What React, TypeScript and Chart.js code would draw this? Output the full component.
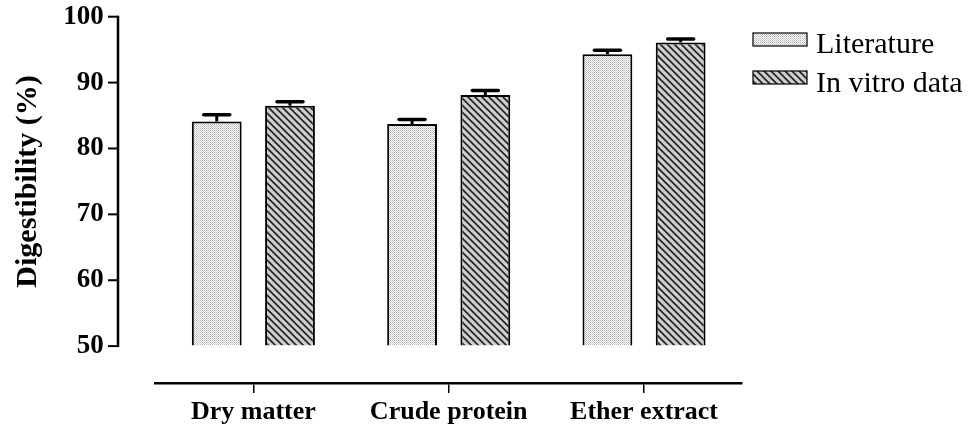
import React, { useEffect, useRef } from "react";
import { Chart, registerables } from "chart.js";

Chart.register(...registerables);

const categories = ["Dry matter", "Crude protein", "Ether extract"];
const seriesNames = ["Literature", "In vitro data"];
const literature = [84.1, 83.7, 94.3];
const literatureErr = [1.0, 0.7, 0.6];
const inVitro = [86.5, 88.1, 96.1];
const inVitroErr = [0.6, 0.7, 0.5];
const yTicks = [50, 60, 70, 80, 90, 100];
const yTitle = "Digestibility (%)";

const FONT = "'Liberation Serif', 'Times New Roman', serif";

function makeDots(ctx: CanvasRenderingContext2D) {
  const t = document.createElement("canvas");
  t.width = 2;
  t.height = 2;
  const c = t.getContext("2d")!;
  c.fillStyle = "#ffffff";
  c.fillRect(0, 0, 2, 2);
  c.fillStyle = "#b4b4b4";
  c.fillRect(0, 0, 1, 1);
  c.fillStyle = "#cccccc";
  c.fillRect(1, 1, 1, 1);
  return ctx.createPattern(t, "repeat")!;
}

function makeHatch(ctx: CanvasRenderingContext2D) {
  const s = 7;
  const t = document.createElement("canvas");
  t.width = s;
  t.height = s;
  const c = t.getContext("2d")!;
  c.fillStyle = "#cfcfcf";
  c.fillRect(0, 0, s, s);
  c.strokeStyle = "#262626";
  c.lineWidth = 1.7;
  c.beginPath();
  c.moveTo(-1, -1);
  c.lineTo(s + 1, s + 1);
  c.moveTo(-1, s - 1);
  c.lineTo(1, s + 1);
  c.moveTo(s - 1, -1);
  c.lineTo(s + 1, 1);
  c.stroke();
  return ctx.createPattern(t, "repeat")!;
}

export default function App() {
  const ref = useRef<HTMLCanvasElement>(null);

  useEffect(() => {
    const canvas = ref.current!;
    const ctx = canvas.getContext("2d")!;
    const dots = makeDots(ctx);
    const hatch = makeHatch(ctx);
    const fills = [dots, hatch];
    const errs = [literatureErr, inVitroErr];
    const AXIS_X = 118;

    const decor = {
      id: "prismDecor",
      afterDatasetsDraw(chart: any) {
        const c = chart.ctx as CanvasRenderingContext2D;
        const y = chart.scales.y;
        c.save();
        c.strokeStyle = "#000";
        chart.data.datasets.forEach((ds: any, di: number) => {
          const meta = chart.getDatasetMeta(di);
          meta.data.forEach((el: any, i: number) => {
            const v = ds.data[i] as number;
            const top = y.getPixelForValue(v + errs[di][i]);
            c.lineWidth = 3;
            c.lineCap = "butt";
            c.beginPath();
            c.moveTo(el.x, el.y);
            c.lineTo(el.x, top);
            c.stroke();
            c.lineWidth = 3.5;
            c.lineCap = "round";
            c.beginPath();
            c.moveTo(el.x - 13, top);
            c.lineTo(el.x + 13, top);
            c.stroke();
          });
        });
        c.restore();
      },
      afterDraw(chart: any) {
        const c = chart.ctx as CanvasRenderingContext2D;
        const y = chart.scales.y;
        const yTop = y.getPixelForValue(yTicks[yTicks.length - 1]);
        const yBot = y.getPixelForValue(yTicks[0]);
        c.save();
        c.strokeStyle = "#000";
        c.lineWidth = 2.5;
        c.beginPath();
        c.moveTo(AXIS_X, yTop - 1);
        c.lineTo(AXIS_X, yBot + 1);
        c.stroke();
        c.lineWidth = 2;
        yTicks.forEach((v) => {
          const p = y.getPixelForValue(v);
          c.beginPath();
          c.moveTo(AXIS_X - 10, p);
          c.lineTo(AXIS_X, p);
          c.stroke();
        });
        c.restore();

        // y title
        c.save();
        c.translate(28, (yTop + yBot) / 2);
        c.rotate(-Math.PI / 2);
        c.font = `bold 30px ${FONT}`;
        c.textAlign = "center";
        c.textBaseline = "middle";
        c.fillStyle = "#000";
        c.fillText(yTitle, 0, 0);
        c.restore();

        // legend
        c.save();
        const boxX = 753;
        const boxW = 54;
        const boxH = 13;
        const rows = [
          { boxY: 33, base: 53 },
          { boxY: 71, base: 92 },
        ];
        seriesNames.forEach((name, i) => {
          const r = rows[i];
          c.fillStyle = fills[i];
          c.fillRect(boxX, r.boxY, boxW, boxH);
          c.strokeStyle = "#000";
          c.lineWidth = 1.2;
          c.strokeRect(boxX, r.boxY, boxW, boxH);
          c.fillStyle = "#000";
          c.font = `30px ${FONT}`;
          c.textAlign = "left";
          c.textBaseline = "alphabetic";
          c.fillText(name, 816, r.base);
        });
        c.restore();
      },
    };

    const chart = new Chart(canvas, {
      type: "bar",
      data: {
        labels: categories,
        datasets: [
          {
            label: seriesNames[0],
            data: literature,
            base: 50,
            backgroundColor: dots as any,
            borderColor: "#000",
            borderWidth: 2,
            categoryPercentage: 0.75,
            barPercentage: 0.68,
          },
          {
            label: seriesNames[1],
            data: inVitro,
            base: 50,
            backgroundColor: hatch as any,
            borderColor: "#000",
            borderWidth: 2,
            categoryPercentage: 0.75,
            barPercentage: 0.68,
          },
        ],
      },
      options: {
        responsive: false,
        animation: false,
        layout: { padding: { top: 16.7, right: 236.3, bottom: 0, left: 0 } },
        plugins: {
          legend: { display: false },
          tooltip: { enabled: false },
          title: { display: false },
        },
        scales: {
          x: {
            type: "category",
            offset: true,
            grid: {
              display: true,
              offset: false,
              drawOnChartArea: false,
              drawTicks: true,
              tickLength: 10,
              color: "#000",
              lineWidth: 1.5,
            },
            border: { display: true, color: "#000", width: 2.5 },
            ticks: {
              color: "#000",
              font: { family: FONT, size: 26, weight: "bold" },
              padding: 4,
              maxRotation: 0,
              autoSkip: false,
            },
            afterFit: (s: any) => {
              s.height = 49;
            },
          },
          y: {
            type: "linear",
            min: 44.4,
            max: 100,
            afterBuildTicks: (s: any) => {
              s.ticks = yTicks.map((v) => ({ value: v }));
            },
            grid: {
              display: true,
              drawOnChartArea: false,
              drawTicks: true,
              tickLength: 52,
              color: "rgba(0,0,0,0)",
            },
            border: { display: false },
            ticks: {
              color: "#000",
              font: { family: FONT, size: 27, weight: "bold" },
              padding: 0,
            },
            afterFit: (s: any) => {
              s.width = 155.7;
            },
          },
        },
      },
      plugins: [decor],
    });
    return () => chart.destroy();
  }, []);

  return (
    <div style={{ position: "fixed", left: 0, top: 0, width: 978, height: 432, background: "#fff" }}>
      <canvas ref={ref} width={978} height={432} style={{ display: "block" }} />
    </div>
  );
}
